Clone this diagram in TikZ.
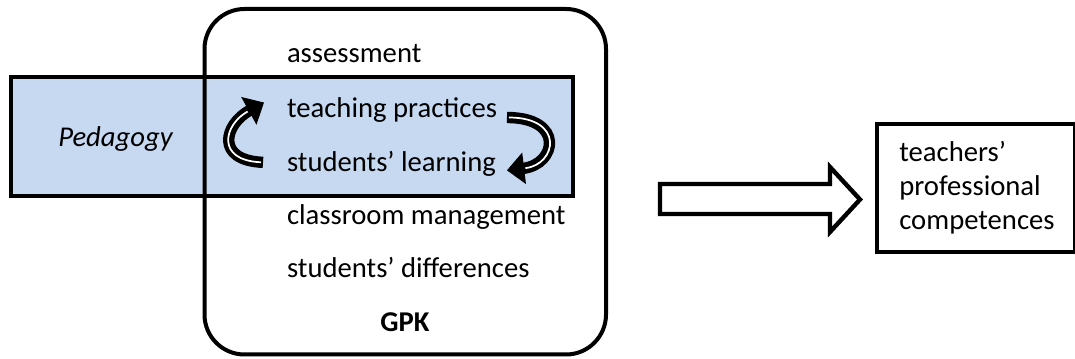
\documentclass[tikz,border=0pt]{standalone}
\usepackage{fontspec}
\setmainfont{Carlito}
\usetikzlibrary{arrows.meta,calc}

\definecolor{pedblue}{RGB}{198,217,241}
\newcommand\lblsize{\fontsize{21.5pt}{25.5pt}\selectfont}

\tikzset{every picture/.style={line width=3pt}}
\tikzset{
  lbl/.style={anchor=base west,inner sep=0pt,font=\lblsize},
  cyclearrow/.style={line width=8.5pt,-{Triangle[length=13pt,width=23pt]}},
  cycleline/.style={white,line width=1.3pt,shorten >=14pt,shorten <=1.5pt},
  bigarrow/.style={fill=white,line width=3.3pt},
  tpcbox/.style={draw,anchor=north west,minimum width=148.5pt,minimum height=96pt,inner xsep=16.5pt,text width=115pt,align=left,font=\lblsize},
}

\begin{document}
\begin{tikzpicture}[x=0.75pt,y=0.75pt,yscale=-1,xscale=1]
\useasboundingbox (0,0) rectangle (1075,359);

%Shape: Rectangle [Pedagogy band]
\draw[fill=pedblue] (10.5,77) rectangle (573,196);
%Shape: Rounded Rectangle [GPK]
\draw[rounded corners=30pt] (204.5,9) rectangle (606,354.5);

% Text Node
\node[lbl,anchor=base,font=\lblsize\itshape] (ped) at (115.5,147) {Pedagogy};
% Text Node
\node[lbl] (assess) at (285,63) {assessment};
% Text Node
\node[lbl] (teach) at (285,118) {teaching practices};
% Text Node
\node[lbl] (learn) at (285,172) {students’ learning};
% Text Node
\node[lbl] (manage) at (285,225) {classroom management};
% Text Node
\node[lbl] (diff) at (285,278) {students’ differences};
% Text Node
\node[lbl,anchor=base,font=\lblsize\bfseries] (gpk) at (405,332) {GPK};

%Curve Lines [learning -> practices]
\draw[cyclearrow] ($(learn.west)+(-22,-2)$) .. controls +(-48,-2) and +(-40,22) .. ($(teach.west)+(-21,-8)$);
\draw[cycleline] ($(learn.west)+(-22,-2)$) .. controls +(-48,-2) and +(-40,22) .. ($(teach.west)+(-21,-8)$);
%Curve Lines [practices -> learning]
\draw[cyclearrow] ($(teach.east)+(8,7)$) .. controls +(58,0) and +(50,-6) .. ($(learn.east)+(9,6)$);
\draw[cycleline] ($(teach.east)+(8,7)$) .. controls +(58,0) and +(50,-6) .. ($(learn.east)+(9,6)$);

% Text Node
\node[tpcbox] (tpc) at (875,122) {teachers’\\professional\\competences};

%Shape: Right Arrow
\coordinate (arrTip) at ($(tpc.west)+(-15,11.5)$);
\draw[bigarrow] (arrTip) -- ++(-30,-32.5) -- ++(0,17) -- ++(-170,0) -- ++(0,30) -- ++(170,0) -- ++(0,18) -- cycle;

\end{tikzpicture}
\end{document}
